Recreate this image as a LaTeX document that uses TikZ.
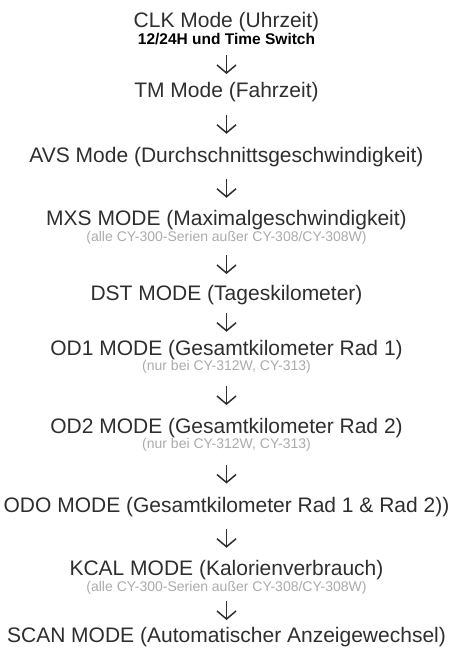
\documentclass[tikz,border=0pt]{standalone}
\usepackage{fontspec}
\setmainfont{Liberation Sans}
\usetikzlibrary{arrows.meta,calc}
\definecolor{modegray}{HTML}{2E2E2E}
\definecolor{notegray}{HTML}{ABABAB}

\begin{document}
\begin{tikzpicture}[x=1pt,y=-1pt,
  mode/.style={anchor=base,inner sep=0pt,text=modegray,font=\fontsize{21}{21}\selectfont,text height=15pt,text depth=4.5pt},
  note/.style={anchor=base,inner sep=0pt,text=notegray,font=\fontsize{14}{14}\selectfont,text height=10pt,text depth=3pt},
  flow/.style={-{Straight Barb[length=8pt,width=19pt]},line width=1.5pt,draw=modegray}]
  \useasboundingbox (0,0) rectangle (448,651);

  % Clock and times
  \node[mode] (clk) at (226.5,27) {CLK Mode (Uhrzeit)};
  \node[note,text=black,font=\bfseries\fontsize{15.5}{15.5}\selectfont] (clknote) at (226.5,44) {12/24H und Time Switch};
  \node[mode] (tm) at (226.5,97) {TM Mode (Fahrzeit)};

  % Speeds
  \node[mode] (avs) at (226.5,162) {AVS Mode (Durchschnittsgeschwindigkeit)};
  \node[mode] (mxs) at (226.5,225) {MXS MODE (Maximalgeschwindigkeit)};
  \node[note] (mxsnote) at (226.5,241) {(alle CY-300-Serien außer CY-308/CY-308W)};

  % Distances
  \node[mode] (dst) at (226.5,300) {DST MODE (Tageskilometer)};
  \node[mode] (od1) at (226.5,355) {OD1 MODE (Gesamtkilometer Rad 1)};
  \node[note] (od1note) at (226.5,370) {(nur bei CY-312W, CY-313)};
  \node[mode] (od2) at (226.5,433) {OD2 MODE (Gesamtkilometer Rad 2)};
  \node[note] (od2note) at (226.5,448) {(nur bei CY-312W, CY-313)};
  \node[mode] (odo) at (226.5,512) {ODO MODE (Gesamtkilometer Rad 1 \& Rad 2))};

  % Calories and scan
  \node[mode] (kcal) at (226.5,575) {KCAL MODE (Kalorienverbrauch)};
  \node[note] (kcalnote) at (226.5,591) {(alle CY-300-Serien außer CY-308/CY-308W)};
  \node[mode] (scan) at (226.5,642) {SCAN MODE (Automatischer Anzeigewechsel)};

  % Arrows
  \foreach \a/\b in {clknote/tm,tm/avs,avs/mxs,mxsnote/dst,dst/od1,od1note/od2,od2note/odo,odo/kcal,kcalnote/scan}
    \draw[flow] ($(\a.south)!.5!(\b.north)+(0,-9.5)$) -- ($(\a.south)!.5!(\b.north)+(0,9.5)$);
\end{tikzpicture}
\end{document}
